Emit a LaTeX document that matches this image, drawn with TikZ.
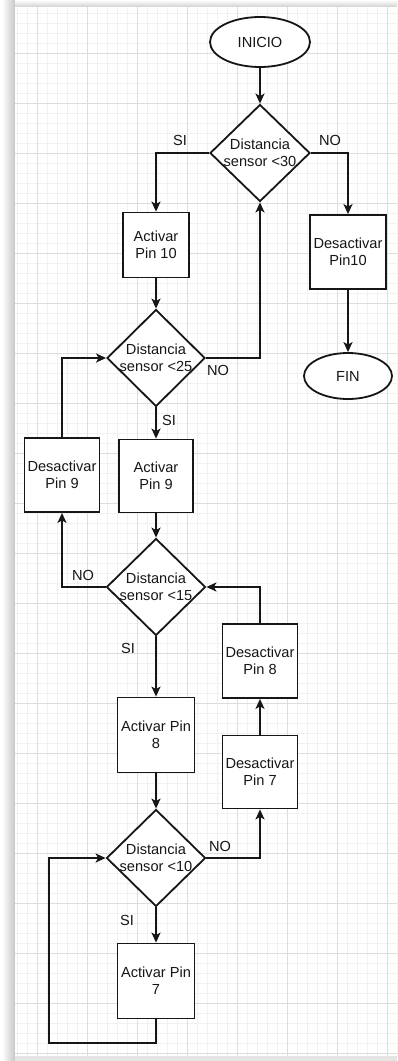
\documentclass[tikz,border=0pt]{standalone}
\usepackage{fontspec}
\setmainfont{Liberation Sans}
\usetikzlibrary{shapes.geometric,arrows.meta}
\definecolor{ink}{HTML}{161616}
\definecolor{gmaj}{HTML}{DDDDDD}
\definecolor{gmin}{HTML}{F1F1F1}
\tikzset{
  every node/.style={font=\fontsize{14.6}{17}\selectfont, text=ink},
  proc/.style={draw=ink, line width=1.8pt, fill=white, rectangle, inner sep=0pt, align=center},
  term/.style={draw=ink, line width=1.8pt, fill=white, ellipse, inner sep=0pt},
  decis/.style={draw=ink, line width=1.8pt, fill=white, diamond, inner sep=0pt},
  flow/.style={draw=ink, line width=1.8pt, -{Stealth[length=10pt,width=9pt,inset=2.5pt]}},
  lbl/.style={inner sep=0pt}
}
\begin{document}
\begin{tikzpicture}[x=1pt,y=-1pt]
\useasboundingbox (0,0) rectangle (397,1061);
% background and paper shadow
\fill[white] (0,0) rectangle (397,1061);
\shade[left color=white, right color=black!22] (2,0) rectangle (15,1061);
\shade[top color=white, bottom color=black!18] (15,0) rectangle (397,7);
\fill[black!10] (15,1056) rectangle (397,1061);
\fill[white] (15,7) rectangle (397,1056);
% grid
\foreach \x in {17,27,...,397} \draw[gmin, line width=0.6pt] (\x,7) -- (\x,1056);
\foreach \y in {13,23,...,1053} \draw[gmin, line width=0.6pt] (15,\y) -- (397,\y);
\foreach \x in {37,87,...,397} \draw[gmaj, line width=0.9pt] (\x,7) -- (\x,1056);
\foreach \y in {53,103,...,1053} \draw[gmaj, line width=0.9pt] (15,\y) -- (397,\y);

% nodes
\node[term, minimum width=100pt, minimum height=50pt] (inicio) at (260,42) {INICIO};
\node[decis, minimum width=100pt, minimum height=97pt,
  label={[lbl, align=center]center:Distancia\\sensor <30}] (d1) at (260,153) {};
\node[proc, minimum width=66pt, minimum height=65pt] (a10) at (156,245) {Activar\\Pin 10};
\node[proc, minimum width=76pt, minimum height=74pt] (dp10) at (348,252) {Desactivar\\Pin10};
\node[term, minimum width=88pt, minimum height=46pt] (fin) at (348,376) {FIN};
\node[decis, minimum width=98pt, minimum height=97pt,
  label={[lbl, align=center]center:Distancia\\sensor <25}] (d2) at (156,358) {};
\node[proc, minimum width=75pt, minimum height=74pt] (dp9) at (62,475) {Desactivar\\Pin 9};
\node[proc, minimum width=74pt, minimum height=73pt] (a9) at (156,476) {Activar\\Pin 9};
\node[decis, minimum width=99pt, minimum height=97pt,
  label={[lbl, align=center]center:Distancia\\sensor <15}] (d3) at (156,587) {};
\node[proc, minimum width=75pt, minimum height=74pt] (dp8) at (260,661) {Desactivar\\Pin 8};
\node[proc, minimum width=77pt, minimum height=75pt] (a8) at (156,735) {Activar Pin\\8};
\node[proc, minimum width=75pt, minimum height=73pt] (dp7) at (260,772) {Desactivar\\Pin 7};
\node[decis, minimum width=99pt, minimum height=97pt,
  label={[lbl, align=center]center:Distancia\\sensor <10}] (d4) at (156,858) {};
\node[proc, minimum width=77pt, minimum height=75pt] (a7) at (156,981) {Activar Pin\\7};
\coordinate (lpA) at (156,1043);
\coordinate (lpB) at (49,1043);

% branch labels
\node[lbl] (s1) at (180,140) {SI};
\node[lbl] (n1) at (330,140) {NO};
\node[lbl] (n2) at (218,370) {NO};
\node[lbl] (s2) at (169,420) {SI};
\node[lbl] (n3) at (83,575) {NO};
\node[lbl] (s3) at (128,648) {SI};
\node[lbl] (n4) at (220,846) {NO};
\node[lbl] (s4) at (127,920) {SI};

% connectors
\draw[flow] (inicio.south) -- (d1.north);
\draw[flow] (d1.west) -| (a10.north);
\draw[flow] (d1.east) -| (dp10.north);
\draw[flow] (dp10.south) -- (fin.north);
\draw[flow] (a10.south) -- (d2.north);
\draw[flow] (d2.east) -| (d1.south);
\draw[flow] (dp9.north) |- (d2.west);
\draw[flow] (d2.south) -- (a9.north);
\draw[flow] (a9.south) -- (d3.north);
\draw[flow] (d3.west) -| (dp9.south);
\draw[flow] (dp8.north) |- (d3.east);
\draw[flow] (d3.south) -- (a8.north);
\draw[flow] (a8.south) -- (d4.north);
\draw[flow] (dp7.north) -- (dp8.south);
\draw[flow] (d4.east) -| (dp7.south);
\draw[flow] (d4.south) -- (a7.north);
\draw[flow] (a7.south) -- (lpA) -- (lpB) |- (d4.west);
\end{tikzpicture}
\end{document}
